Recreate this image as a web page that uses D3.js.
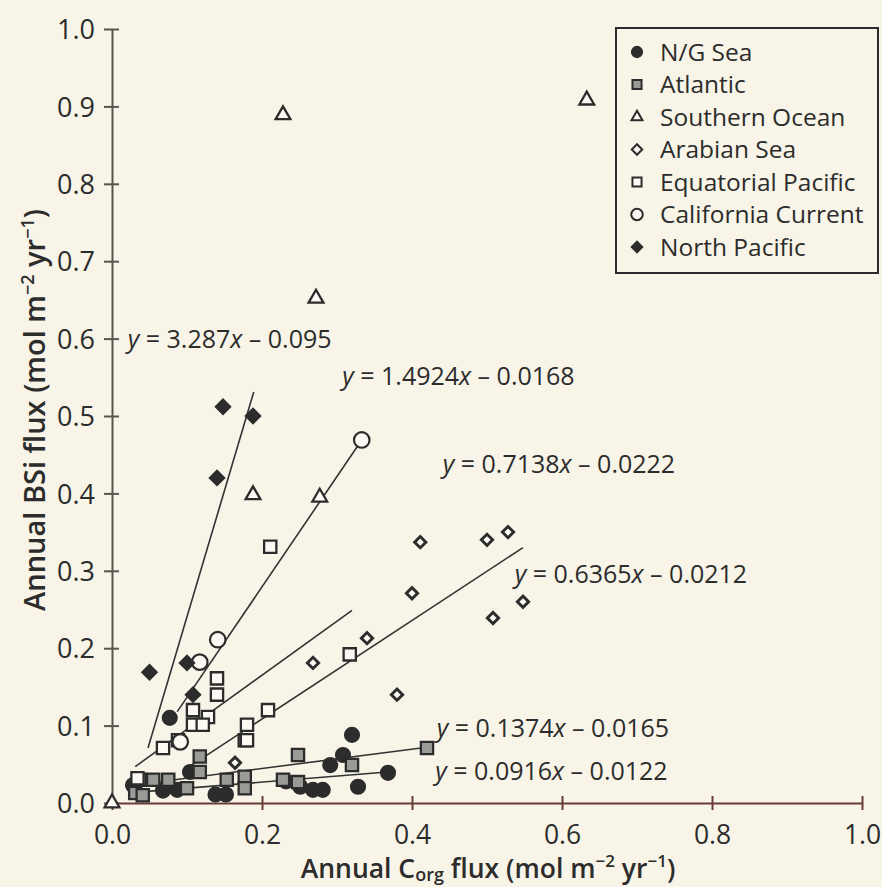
<!DOCTYPE html>
<html>
<head>
<meta charset="utf-8">
<script src="https://cdn.jsdelivr.net/npm/d3@7"></script>
<style>
  html, body { margin: 0; padding: 0; background: #f8f5e8; }
  svg { display: block; font-family: "Open Sans", sans-serif; }
</style>
</head>
<body>
<svg id="chart"></svg>
<script>
// ---- data (x = Corg flux, y = BSi flux) ----
const xTicks = [0.0, 0.2, 0.4, 0.6, 0.8, 1.0];
const yTicks = [0.0, 0.1, 0.2, 0.3, 0.4, 0.5, 0.6, 0.7, 0.8, 0.9, 1.0];

const seriesNames = ["N/G Sea", "Atlantic", "Southern Ocean", "Arabian Sea",
    "Equatorial Pacific", "California Current", "North Pacific"];

const ngSea = [[0.077, 0.110], [0.138, 0.011], [0.152, 0.011], [0.104, 0.040], [0.028, 0.023],
    [0.068, 0.016], [0.087, 0.017], [0.320, 0.088], [0.308, 0.062], [0.291, 0.049],
    [0.368, 0.039], [0.328, 0.021], [0.251, 0.021], [0.268, 0.017], [0.281, 0.017], [0.232, 0.028]];
const atlantic = [[0.037, 0.030], [0.055, 0.030], [0.075, 0.030], [0.031, 0.013], [0.041, 0.010],
    [0.100, 0.019], [0.117, 0.060], [0.117, 0.040], [0.153, 0.030], [0.177, 0.034], [0.177, 0.019],
    [0.177, 0.081], [0.228, 0.030], [0.248, 0.062], [0.248, 0.027], [0.320, 0.049], [0.420, 0.071]];
const southernOcean = [[0.228, 0.889], [0.633, 0.908], [0.272, 0.652], [0.188, 0.398],
    [0.277, 0.395], [0.0, 0.0]];
const arabianSea = [[0.411, 0.337], [0.500, 0.340], [0.528, 0.350], [0.400, 0.271], [0.548, 0.260],
    [0.508, 0.239], [0.340, 0.213], [0.268, 0.181], [0.380, 0.140], [0.164, 0.052]];
const eqPacific = [[0.140, 0.161], [0.140, 0.140], [0.108, 0.120], [0.128, 0.111], [0.108, 0.101],
    [0.121, 0.101], [0.068, 0.071], [0.088, 0.081], [0.180, 0.101], [0.208, 0.120], [0.180, 0.081],
    [0.211, 0.331], [0.317, 0.192], [0.034, 0.032]];
const caCurrent = [[0.333, 0.469], [0.141, 0.211], [0.117, 0.182], [0.091, 0.079]];
const northPacific = [[0.050, 0.169], [0.100, 0.181], [0.108, 0.140], [0.148, 0.512],
    [0.188, 0.500], [0.140, 0.420]];

// regression segments as drawn (start, end) and their printed equations
const fitSegments = [
    [[0.048, 0.071], [0.189, 0.531]],
    [[0.087, 0.118], [0.333, 0.469]],
    [[0.031, 0.047], [0.320, 0.249]],
    [[0.100, 0.045], [0.548, 0.330]],
    [[0.035, 0.024], [0.420, 0.072]],
    [[0.035, 0.014], [0.367, 0.040]]
];
const fitSlopes = ["3.287", "1.4924", "0.7138", "0.6365", "0.1374", "0.0916"];
const fitIntercepts = ["0.095", "0.0168", "0.0222", "0.0212", "0.0165", "0.0122"];

// ---- layout ----
const labelAnchors = [[0.021, 0.588], [0.307, 0.540], [0.441, 0.426], [0.537, 0.284],
    [0.433, 0.085], [0.431, 0.030]];

const ink = "#2c2c2c";
const paper = "#fbf9f1";

const markerStyles = [
    { type: d3.symbolCircle, size: 150, fill: ink, rotate: 0 },
    { type: d3.symbolSquare, size: 150, fill: "#9a9a96", rotate: 0 },
    { type: d3.symbolTriangle, size: 95, fill: paper, rotate: 0 },
    { type: d3.symbolSquare, size: 64, fill: paper, rotate: 45 },
    { type: d3.symbolSquare, size: 150, fill: paper, rotate: 0 },
    { type: d3.symbolCircle, size: 190, fill: paper, rotate: 0 },
    { type: d3.symbolSquare, size: 100, fill: ink, rotate: 45 }
];
const strokeWidths = [2.3, 2.3, 2.3, 2.9, 2.3, 2.2, 2.3];
const seriesData = [ngSea, atlantic, southernOcean, arabianSea, eqPacific, caCurrent, northPacific];
const drawOrder = [0, 1, 4, 5, 3, 2, 6];

const Chart = {
    width: 882,
    height: 887,
    plot: { left: 112, right: 862, top: 29, bottom: 803 },

    init() {
        this.svg = d3.select("#chart")
            .attr("width", this.width)
            .attr("height", this.height);
        this.x = d3.scaleLinear().domain([0, 1]).range([this.plot.left, this.plot.right]);
        this.y = d3.scaleLinear().domain([0, 1]).range([this.plot.bottom, this.plot.top]);
        this.drawAxes();
        this.drawFits();
        this.drawPoints();
        this.drawLabels();
        this.drawLegend();
    },

    drawAxes() {
        const fmt = d3.format(".1f");
        this.svg.append("g")
            .attr("transform", `translate(${this.plot.left},0)`)
            .call(d3.axisLeft(this.y).tickValues(yTicks).tickFormat(fmt).tickSizeOuter(0))
            .call(g => g.select(".domain").attr("stroke", "#5a5350").attr("stroke-width", 2))
            .call(g => g.selectAll(".tick line").attr("x1", -8).attr("x2", 7)
                .attr("stroke", "#5a5350").attr("stroke-width", 2))
            .call(g => g.selectAll(".tick text").attr("x", -17).attr("dy", "0.36em")
                .attr("fill", ink).attr("font-size", 27).attr("font-family", "Open Sans"));

        this.svg.append("g")
            .attr("transform", `translate(0,${this.plot.bottom})`)
            .call(d3.axisBottom(this.x).tickValues(xTicks).tickFormat(fmt).tickSizeOuter(0))
            .call(g => g.select(".domain").attr("stroke", "#6a3a38").attr("stroke-width", 2))
            .call(g => g.selectAll(".tick line").attr("y1", -7).attr("y2", 7)
                .attr("stroke", "#6a3a38").attr("stroke-width", 2))
            .call(g => g.selectAll(".tick text").attr("y", 41).attr("dy", null)
                .attr("fill", ink).attr("font-size", 26.5).attr("font-family", "Open Sans"));

        // axis titles
        const xt = this.svg.append("text")
            .attr("x", 488).attr("y", 878)
            .attr("text-anchor", "middle")
            .attr("font-size", 26.5).attr("font-weight", 600).attr("fill", ink);
        xt.append("tspan").text("Annual C");
        xt.append("tspan").attr("font-size", 18).attr("dy", 3).text("org");
        xt.append("tspan").attr("dy", -3).text(" flux (mol m");
        xt.append("tspan").attr("font-size", 17).attr("dy", -11).text("−2");
        xt.append("tspan").attr("dy", 11).text(" yr");
        xt.append("tspan").attr("font-size", 17).attr("dy", -11).text("−1");
        xt.append("tspan").attr("dy", 11).text(")");

        const yt = this.svg.append("text")
            .attr("transform", "translate(45,410) rotate(-90)")
            .attr("text-anchor", "middle")
            .attr("font-size", 29).attr("font-weight", 600).attr("fill", ink);
        yt.append("tspan").text("Annual BSi flux (mol m");
        yt.append("tspan").attr("font-size", 18).attr("dy", -11).text("−2");
        yt.append("tspan").attr("dy", 11).text(" yr");
        yt.append("tspan").attr("font-size", 18).attr("dy", -11).text("−1");
        yt.append("tspan").attr("dy", 11).text(")");
    },

    drawFits() {
        this.svg.append("g").attr("class", "fits")
            .selectAll("line")
            .data(fitSegments)
            .enter()
            .append("line")
            .attr("x1", d => this.x(d[0][0]))
            .attr("y1", d => this.y(d[0][1]))
            .attr("x2", d => this.x(d[1][0]))
            .attr("y2", d => this.y(d[1][1]))
            .attr("stroke", "#333")
            .attr("stroke-width", 1.6);
    },

    symbolPath(style, scale = 1) {
        return d3.symbol().type(style.type).size(style.size * scale)();
    },

    drawPoints() {
        drawOrder.forEach(i => {
            const style = markerStyles[i];
            this.svg.append("g").attr("class", `series-${i}`)
                .selectAll("path")
                .data(seriesData[i])
                .enter()
                .append("path")
                .attr("d", this.symbolPath(style))
                .attr("transform", d => `translate(${this.x(d[0])},${this.y(d[1])}) rotate(${style.rotate})`)
                .attr("fill", style.fill)
                .attr("stroke", ink)
                .attr("stroke-width", strokeWidths[i]);
        });
    },

    drawLabels() {
        const labels = this.svg.append("g").attr("class", "fit-labels")
            .selectAll("text")
            .data(fitSlopes)
            .enter()
            .append("text")
            .attr("x", (d, i) => this.x(labelAnchors[i][0]))
            .attr("y", (d, i) => this.y(labelAnchors[i][1]))
            .attr("font-size", 25)
            .attr("fill", ink);
        labels.append("tspan").attr("font-style", "italic").text("y");
        labels.append("tspan").text(d => ` = ${d}`);
        labels.append("tspan").attr("font-style", "italic").text("x");
        labels.append("tspan").text((d, i) => ` – ${fitIntercepts[i]}`);
    },

    drawLegend() {
        const box = { x: 616, y: 28, w: 262, h: 245 };
        const g = this.svg.append("g").attr("class", "legend");
        g.append("rect")
            .attr("x", box.x).attr("y", box.y)
            .attr("width", box.w).attr("height", box.h)
            .attr("fill", "#f8f5e8")
            .attr("stroke", ink).attr("stroke-width", 2);
        const items = g.selectAll("g.item")
            .data(seriesNames)
            .enter()
            .append("g")
            .attr("class", "item")
            .attr("transform", (d, i) => `translate(${box.x + 21},${box.y + 24 + i * 32.5})`);
        items.append("path")
            .attr("d", (d, i) => this.symbolPath(markerStyles[i], i === 3 ? 0.85 : 0.55))
            .attr("transform", (d, i) => `rotate(${markerStyles[i].rotate})`)
            .attr("fill", (d, i) => markerStyles[i].fill)
            .attr("stroke", ink)
            .attr("stroke-width", 2);
        items.append("text")
            .attr("x", 23).attr("dy", "0.36em")
            .attr("font-size", 24.5)
            .attr("fill", ink)
            .text(d => d);
    }
};

Chart.init();
</script>
</body>
</html>
